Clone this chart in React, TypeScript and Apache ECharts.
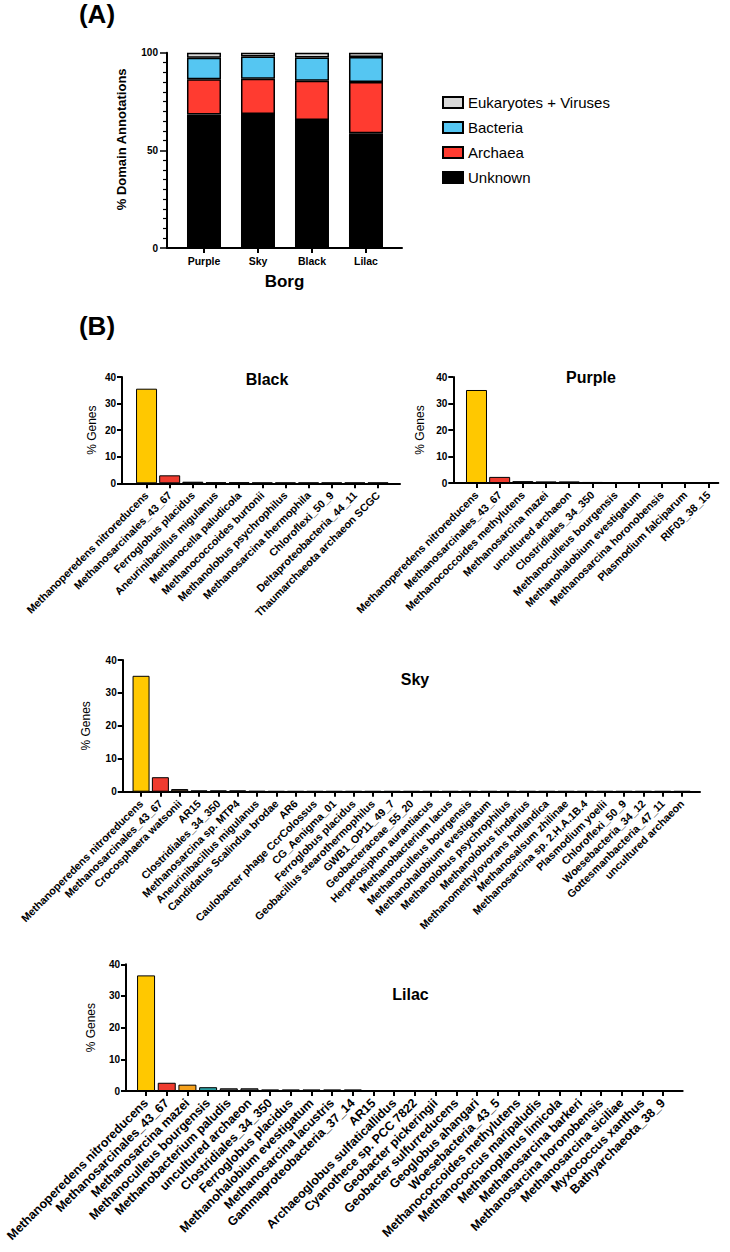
import React, { useEffect, useRef } from "react";
import * as echarts from "echarts";

// ---------- Panel A data ----------
const borgNames = ["Purple", "Sky", "Black", "Lilac"];
const unknownPct = [68.3, 68.6, 65.5, 58.7];
const archaeaPct = [18.1, 18.1, 20.2, 26.3];
const bacteriaPct = [11.0, 11.4, 11.9, 12.8];
const eukVirusPct = [2.6, 1.9, 2.4, 2.2];
const domainLegend = ["Eukaryotes + Viruses", "Bacteria", "Archaea", "Unknown"];
const domainTicks = [0, 50, 100];

// ---------- Panel B data ----------
const blackNames = [
  "Methanoperedens nitroreducens",
  "Methanosarcinales_43_67",
  "Ferroglobus placidus",
  "Aneurinibacillus migulanus",
  "Methanocella paludicola",
  "Methanococcoides burtonii",
  "Methanolobus psychrophilus",
  "Methanosarcina thermophila",
  "Chloroflexi_50_9",
  "Deltaproteobacteria_44_11",
  "Thaumarchaeota archaeon SCGC",
];
const blackValues = [35.6, 3.0, 0.6, 0.4, 0.4, 0.3, 0.3, 0.3, 0.3, 0.3, 0.3];

const purpleNames = [
  "Methanoperedens nitroreducens",
  "Methanosarcinales_43_67",
  "Methanococcoides methylutens",
  "Methanosarcina mazei",
  "uncultured archaeon",
  "Clostridiales_34_350",
  "Methanoculleus bourgensis",
  "Methanohalobium evestigatum",
  "Methanosarcina horonobensis",
  "Plasmodium falciparum",
  "RIF03_38_15",
];
const purpleValues = [35.1, 2.3, 0.7, 0.6, 0.6, 0.4, 0.3, 0.3, 0.3, 0.3, 0.3];

const skyNames = [
  "Methanoperedens nitroreducens",
  "Methanosarcinales_43_67",
  "Crocosphaera watsonii",
  "AR15",
  "Clostridiales_34_350",
  "Methanosarcina sp. MTP4",
  "Aneurinibacillus migulanus",
  "Candidatus Scalindua brodae",
  "AR6",
  "Caulobacter phage CcrColossus",
  "CG_Aenigma_01",
  "Ferroglobus placidus",
  "Geobacillus stearothermophilus",
  "GWB1_OP11_49_7",
  "Geobacteraceae_55_20",
  "Herpetosiphon aurantiacus",
  "Methanobacterium lacus",
  "Methanoculleus bourgensis",
  "Methanohalobium evestigatum",
  "Methanolobus psychrophilus",
  "Methanolobus tindarius",
  "Methanomethylovorans hollandica",
  "Methanosalsum zhilinae",
  "Methanosarcina sp. 2.H.A.1B.4",
  "Plasmodium yoelii",
  "Chloroflexi_50_9",
  "Woesebacteria_34_12",
  "Gottesmanbacteria_47_11",
  "uncultured archaeon",
];
const skyValues = [
  35.2, 4.4, 0.8, 0.4, 0.4, 0.4, 0.25, 0.2, 0.2, 0.2, 0.2, 0.2, 0.2, 0.2, 0.2,
  0.2, 0.2, 0.2, 0.2, 0.2, 0.2, 0.2, 0.2, 0.2, 0.2, 0.2, 0.2, 0.2, 0.2,
];

const lilacNames = [
  "Methanoperedens nitroreducens",
  "Methanosarcinales_43_67",
  "Methanosarcina mazei",
  "Methanoculleus bourgensis",
  "Methanobacterium paludis",
  "uncultured archaeon",
  "Clostridiales_34_350",
  "Ferroglobus placidus",
  "Methanohalobium evestigatum",
  "Methanosarcina lacustris",
  "Gammaproteobacteria_37_14",
  "AR15",
  "Archaeoglobus sulfaticallidus",
  "Cyanothece sp. PCC 7822",
  "Geobacter pickeringii",
  "Geobacter sulfurreducens",
  "Geoglobus ahangari",
  "Woesebacteria_43_5",
  "Methanococcoides methylutens",
  "Methanococcus maripaludis",
  "Methanoplanus limicola",
  "Methanosarcina barkeri",
  "Methanosarcina horonobensis",
  "Methanosarcina siciliae",
  "Myxococcus xanthus",
  "Bathyarchaeota_38_9",
];
const lilacValues = [
  36.5, 2.6, 2.0, 1.2, 0.85, 0.85, 0.5, 0.5, 0.5, 0.5, 0.5, 0.3, 0.3, 0.3, 0.3,
  0.3, 0.3, 0.3, 0.3, 0.3, 0.3, 0.3, 0.3, 0.3, 0.3, 0.3,
];
const genesTicks = [0, 10, 20, 30, 40];

// ---------- Styles ----------
const FONT = "'Liberation Sans', Arial, Helvetica, sans-serif";
const GOLD = "#FFC800";
const RED = "#EF3B2F";
const DARK = "#151515";
const blackColors = [GOLD, RED];
const purpleColors = [GOLD, RED];
const skyColors = [GOLD, RED, "#5E4B35"];
const lilacColors = [GOLD, RED, "#F5A11C", "#2A9FA3", "#555555", "#555555"];
const domainColors = {
  Unknown: "#000000",
  Archaea: "#FF3B30",
  Bacteria: "#55C6F2",
  "Eukaryotes + Viruses": "#D9D9D9",
};

type PanelCfg = {
  title: string;
  names: string[];
  values: number[];
  colors: string[];
  left: number;
  top: number;
  width: number;
  height: number;
  min: number;
  max: number;
  barWidth: number;
  labelSize: number;
  nameGap: number;
  titleX: number;
  titleY: number;
};

const panels: PanelCfg[] = [
  {
    title: "Black", names: blackNames, values: blackValues, colors: blackColors,
    left: 122, top: 377, width: 278, height: 106.3, min: -1.06, max: 10.95,
    barWidth: 21, labelSize: 10.8, nameGap: 24, titleX: 267, titleY: 379,
  },
  {
    title: "Purple", names: purpleNames, values: purpleValues, colors: purpleColors,
    left: 453.3, top: 377, width: 265, height: 106, min: -1.0, max: 10.43,
    barWidth: 21, labelSize: 10.8, nameGap: 27, titleX: 591, titleY: 377,
  },
  {
    title: "Sky", names: skyNames, values: skyValues, colors: skyColors,
    left: 122.7, top: 660, width: 577.3, height: 131.7, min: -0.95, max: 28.93,
    barWidth: 17, labelSize: 10.8, nameGap: 31, titleX: 415, titleY: 679,
  },
  {
    title: "Lilac", names: lilacNames, values: lilacValues, colors: lilacColors,
    left: 126, top: 964.3, width: 556.7, height: 126.7, min: -0.97, max: 25.95,
    barWidth: 18, labelSize: 12.5, nameGap: 29, titleX: 410.5, titleY: 994,
  },
];

function buildOption() {
  const grid: any[] = [];
  const xAxis: any[] = [];
  const yAxis: any[] = [];
  const series: any[] = [];
  const graphic: any[] = [];

  // ----- Panel A -----
  grid.push({ left: 167, top: 52.7, width: 235, height: 195.3 });
  xAxis.push({
    type: "value",
    gridIndex: 0,
    min: -0.685,
    max: 3.667,
    splitLine: { show: false },
    axisLine: { show: true, onZero: false, lineStyle: { color: "#000", width: 2 } },
    axisTick: {
      show: true,
      customValues: borgNames.map((_, i) => i),
      length: 5,
      lineStyle: { color: "#000", width: 2 },
    },
    axisLabel: {
      customValues: borgNames.map((_, i) => i),
      formatter: (v: number) => borgNames[Math.round(v)] ?? "",
      color: "#000",
      fontFamily: FONT,
      fontWeight: "bold",
      fontSize: 10.5,
      margin: 7,
    },
    name: "Borg",
    nameLocation: "middle",
    nameGap: 25,
    nameTextStyle: { color: "#000", fontFamily: FONT, fontWeight: "bold", fontSize: 17 },
  });
  yAxis.push({
    type: "value",
    gridIndex: 0,
    min: 0,
    max: 100,
    interval: 50,
    splitLine: { show: false },
    axisLine: { show: true, onZero: false, lineStyle: { color: "#000", width: 2 } },
    axisTick: { show: true, length: 7, lineStyle: { color: "#000", width: 1.5 } },
    minorTick: { show: true, splitNumber: 10, length: 4, lineStyle: { color: "#000", width: 1.2 } },
    axisLabel: {
      customValues: domainTicks,
      color: "#000",
      fontFamily: FONT,
      fontWeight: "bold",
      fontSize: 10,
      margin: 9,
    },
    name: "% Domain Annotations",
    nameLocation: "middle",
    nameGap: 39,
    nameTextStyle: {
      color: "#000",
      fontFamily: FONT,
      fontWeight: "bold",
      fontSize: 13,
      padding: [0, 0, 0, 22],
    },
  });
  const stacks: [string, number[]][] = [
    ["Unknown", unknownPct],
    ["Archaea", archaeaPct],
    ["Bacteria", bacteriaPct],
    ["Eukaryotes + Viruses", eukVirusPct],
  ];
  stacks.forEach(([name, vals]) => {
    series.push({
      type: "bar",
      name,
      xAxisIndex: 0,
      yAxisIndex: 0,
      stack: "domain",
      barWidth: 34,
      encode: { x: 1, y: 0 },
      itemStyle: {
        color: (domainColors as any)[name],
        borderColor: "#000",
        borderWidth: 1.5,
      },
      data: vals.map((v, i) => [v, i]),
    });
  });

  // ----- Panel B -----
  panels.forEach((p, k) => {
    const gi = k + 1;
    const idx = p.names.map((_, i) => i);
    grid.push({ left: p.left, top: p.top, width: p.width, height: p.height });
    xAxis.push({
      type: "value",
      gridIndex: gi,
      min: p.min,
      max: p.max,
      splitLine: { show: false },
      axisLine: { show: true, onZero: false, lineStyle: { color: "#000", width: 2 } },
      axisTick: { show: true, customValues: idx, length: 5, lineStyle: { color: "#000", width: 2 } },
      axisLabel: {
        customValues: idx,
        formatter: (v: number) => p.names[Math.round(v)] ?? "",
        rotate: 45,
        color: "#000",
        fontFamily: FONT,
        fontWeight: "bold",
        fontSize: p.labelSize,
        margin: 10,
      },
    });
    yAxis.push({
      type: "value",
      gridIndex: gi,
      min: 0,
      max: 40,
      interval: 10,
      splitLine: { show: false },
      axisLine: { show: true, onZero: false, lineStyle: { color: "#000", width: 2 } },
      axisTick: { show: true, length: 5, lineStyle: { color: "#000", width: 2 } },
      axisLabel: {
        customValues: genesTicks,
        color: "#000",
        fontFamily: FONT,
        fontWeight: "bold",
        fontSize: 10,
        margin: 6,
      },
      name: "% Genes",
      nameLocation: "middle",
      nameGap: p.nameGap,
      nameTextStyle: { color: "#000", fontFamily: FONT, fontSize: 12 },
    });
    series.push({
      type: "bar",
      xAxisIndex: gi,
      yAxisIndex: gi,
      barWidth: p.barWidth,
      itemStyle: { borderColor: "#000", borderWidth: 1 },
      data: p.values.map((v, i) => ({
        value: [i, v],
        itemStyle: { color: p.colors[i] ?? DARK },
      })),
    });
    graphic.push({
      type: "text",
      x: p.titleX,
      y: p.titleY,
      style: {
        text: p.title,
        fill: "#000",
        font: `bold 16px ${FONT}`,
        textAlign: "center",
        textVerticalAlign: "middle",
      },
    });
  });

  graphic.push(
    {
      type: "text",
      x: 97,
      y: 14,
      style: { text: "(A)", fill: "#000", font: `bold 26px ${FONT}`, textAlign: "center", textVerticalAlign: "middle" },
    },
    {
      type: "text",
      x: 97,
      y: 326,
      style: { text: "(B)", fill: "#000", font: `bold 26px ${FONT}`, textAlign: "center", textVerticalAlign: "middle" },
    }
  );

  return {
    animation: false,
    backgroundColor: "#fff",
    textStyle: { fontFamily: FONT },
    legend: {
      orient: "vertical",
      left: 437,
      top: 90,
      itemWidth: 20,
      itemHeight: 11,
      itemGap: 10,
      icon: "rect",
      data: domainLegend,
      textStyle: { color: "#000", fontFamily: FONT, fontSize: 15, lineHeight: 15 },
      selectedMode: false,
    },
    grid,
    xAxis,
    yAxis,
    series,
    graphic,
  };
}

export default function App() {
  const ref = useRef<HTMLDivElement>(null);
  useEffect(() => {
    if (!ref.current) return;
    const chart = echarts.init(ref.current, null, { renderer: "svg" });
    chart.setOption(buildOption() as any);
    return () => chart.dispose();
  }, []);
  return (
    <div
      ref={ref}
      style={{ position: "absolute", left: 0, top: 0, width: 730, height: 1252, background: "#fff" }}
    />
  );
}
